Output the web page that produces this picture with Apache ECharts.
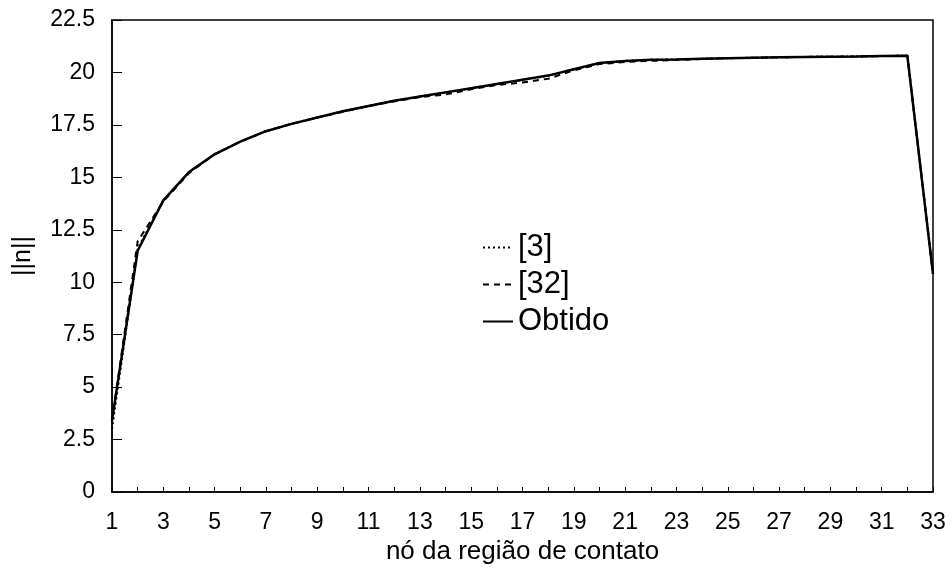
<!DOCTYPE html>
<html>
<head>
<meta charset="utf-8">
<script src="https://cdn.jsdelivr.net/npm/echarts@6/dist/echarts.min.js"></script>
<style>
  html, body { margin: 0; padding: 0; background: #fff; }
  #chart { width: 951px; height: 570px; }
</style>
</head>
<body>
<div id="chart"></div>
<script>
// Contact-region nodes (x axis)
const nodes = ['1','2','3','4','5','6','7','8','9','10','11','12','13','14','15','16','17',
               '18','19','20','21','22','23','24','25','26','27','28','29','30','31','32','33'];

// ||n|| per node for each source
const ref3 = [3.0, 11.6, 13.9, 15.25, 16.1, 16.7, 17.2, 17.55, 17.85, 18.15, 18.4, 18.65, 18.85,
              19.05, 19.25, 19.45, 19.65, 19.85, 20.15, 20.45, 20.55, 20.6, 20.62, 20.65, 20.68,
              20.7, 20.72, 20.74, 20.75, 20.76, 20.78, 20.8, 10.4];
const ref32 = [3.4, 11.95, 13.85, 15.2, 16.1, 16.7, 17.2, 17.55, 17.85, 18.12, 18.4, 18.62, 18.82,
               18.95, 19.2, 19.4, 19.52, 19.7, 20.1, 20.4, 20.5, 20.55, 20.6, 20.64, 20.68,
               20.7, 20.72, 20.74, 20.75, 20.76, 20.78, 20.8, 10.4];
const obtido = [3.4, 11.5, 13.9, 15.25, 16.1, 16.7, 17.2, 17.55, 17.85, 18.15, 18.4, 18.65, 18.85,
                19.05, 19.25, 19.45, 19.65, 19.85, 20.15, 20.45, 20.55, 20.6, 20.62, 20.65, 20.68,
                20.7, 20.72, 20.74, 20.75, 20.76, 20.78, 20.8, 10.4];

const seriesNames = ['[3]', '[32]', 'Obtido'];
const xTitle = 'nó da região de contato';
const yTitle = '||n||';

const FONT = '"Liberation Sans", Arial, sans-serif';

const chart = echarts.init(document.getElementById('chart'), null, { renderer: 'canvas' });

function lineSeries(name, values, width, dash) {
  return {
    name: name, type: 'line', data: values,
    symbol: 'none', showSymbol: false,
    itemStyle: { color: '#000' },
    lineStyle: { color: '#000', width: width, type: dash }
  };
}

chart.setOption({
  animation: false,
  backgroundColor: '#fff',
  grid: {
    left: 112, right: 18, top: 20, bottom: 78,
    show: true, borderColor: '#000', borderWidth: 1.5, backgroundColor: 'transparent'
  },
  legend: {
    data: seriesNames,
    orient: 'vertical',
    left: 477, top: 227,
    itemWidth: 30, itemHeight: 14, itemGap: 6,
    itemStyle: { opacity: 0 },
    textStyle: {
      fontFamily: FONT, fontSize: 31, color: '#000', lineHeight: 31,
      padding: [0, 0, 0, 0]
    }
  },
  xAxis: {
    type: 'category',
    data: nodes,
    boundaryGap: false,
    name: xTitle,
    nameLocation: 'middle',
    nameGap: 45,
    nameTextStyle: { fontFamily: FONT, fontSize: 26, color: '#000' },
    axisLine: { lineStyle: { color: '#000', width: 1.5 } },
    axisTick: { inside: true, length: 5, interval: 0, lineStyle: { color: '#000' } },
    axisLabel: { interval: 1, margin: 19, fontFamily: FONT, fontSize: 23, color: '#000' },
    splitLine: { show: false }
  },
  yAxis: {
    type: 'value',
    min: 0, max: 22.5, interval: 2.5,
    name: yTitle,
    nameLocation: 'middle',
    nameGap: 76,
    nameTextStyle: { fontFamily: FONT, fontSize: 25, color: '#000' },
    axisLine: { show: true, lineStyle: { color: '#000', width: 1.5 } },
    axisTick: { show: true, inside: true, length: 10, lineStyle: { color: '#000' } },
    axisLabel: { margin: 17, fontFamily: FONT, fontSize: 23, color: '#000' },
    splitLine: { show: false }
  },
  series: [
    lineSeries('[3]', ref3, 2, [2, 3]),
    lineSeries('[32]', ref32, 2, [6, 5]),
    lineSeries('Obtido', obtido, 2.5, 'solid')
  ]
});
</script>
</body>
</html>
